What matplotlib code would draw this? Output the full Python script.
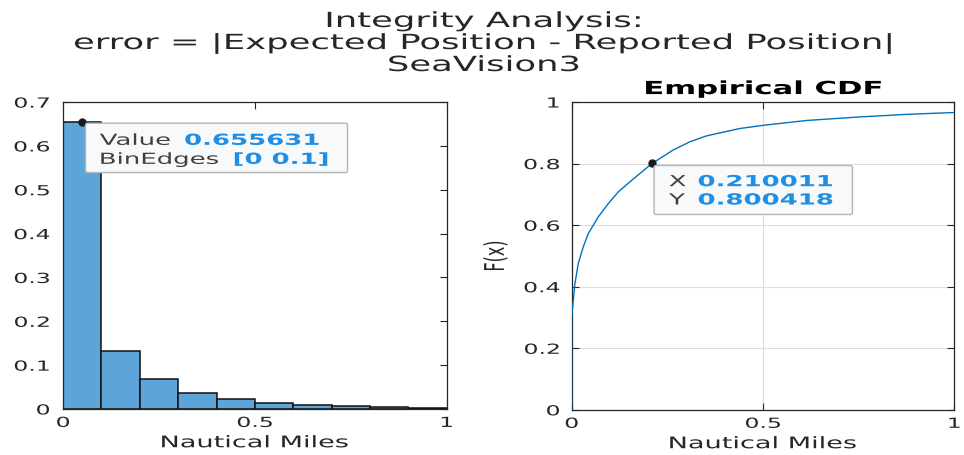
import numpy as np
import matplotlib
matplotlib.use("Agg")
import matplotlib.pyplot as plt
from matplotlib.patches import FancyBboxPatch
from matplotlib.patheffects import AbstractPathEffect
from matplotlib.transforms import Affine2D, ScaledTranslation

# ---- data ----
bin_edges = [0.0, 0.1, 0.2, 0.3, 0.4, 0.5, 0.6, 0.7, 0.8, 0.9, 1.0]
bin_values = [0.655631, 0.132, 0.068, 0.036, 0.023, 0.0137, 0.009, 0.0065, 0.004, 0.002]

cdf_x = [0.0, 0.0, 0.0044, 0.0087, 0.0174, 0.0305, 0.0435, 0.0696, 0.0957, 0.1218,
         0.157, 0.210011, 0.265, 0.309, 0.352, 0.439, 0.504, 0.613, 0.744, 0.874, 1.0]
cdf_y = [0.0, 0.303, 0.357, 0.411, 0.476, 0.530, 0.573, 0.627, 0.670, 0.708,
         0.746, 0.800418, 0.844, 0.871, 0.890, 0.914, 0.925, 0.940, 0.951, 0.960, 0.966]

hist_tip = (0.05, 0.655631)
hist_tip_labels = ["Value", "BinEdges"]
hist_tip_values = ["0.655631", "[0 0.1]"]
cdf_tip = (0.210011, 0.800418)
cdf_tip_labels = ["X", "Y"]
cdf_tip_values = ["0.210011", "0.800418"]

title_lines = ["Integrity Analysis:",
               "error = |Expected Position - Reported Position|",
               "SeaVision3"]
x_ticks = [0, 0.5, 1]
x_tick_labels = ['0', '0.5', '1']
hist_y_ticks = [0, 0.1, 0.2, 0.3, 0.4, 0.5, 0.6, 0.7]
hist_y_tick_labels = ['0', '0.1', '0.2', '0.3', '0.4', '0.5', '0.6', '0.7']
cdf_y_ticks = [0, 0.2, 0.4, 0.6, 0.8, 1]
cdf_y_tick_labels = ['0', '0.2', '0.4', '0.6', '0.8', '1']

# ---- style ----
plt.rcParams['font.family'] = ['DejaVu Sans']
TXT = '#262626'
BLUE_LINE = '#0072BD'
BAR = '#5DA5D8'
TIP_BLUE = '#1E8FE6'
SX = 1.7  # horizontal stretch of the reference's text


class HStretch(AbstractPathEffect):
    """Stretch rendered glyphs horizontally about an anchor of their ink box."""
    def __init__(self, sx=SX, anchor='center'):
        super().__init__()
        self.sx = sx
        self.anchor = anchor

    def draw_path(self, renderer, gc, tpath, affine, rgbFace=None):
        ext = tpath.get_extents(affine)
        if self.anchor == 'left':
            a = ext.x0
        elif self.anchor == 'right':
            a = ext.x1
        else:
            a = 0.5 * (ext.x0 + ext.x1)
        new = affine + Affine2D().translate(-a, 0).scale(self.sx, 1).translate(a, 0)
        renderer.draw_path(gc, tpath, new, rgbFace)


def pe(anchor):
    return [HStretch(SX, anchor)]


fig = plt.figure(figsize=(9.64, 4.56), dpi=100)
ax1 = fig.add_axes([0.0654, 0.1009, 0.398, 0.673])
ax2 = fig.add_axes([0.593, 0.099, 0.397, 0.675])


def style(ax, ypad):
    ax.tick_params(direction='in', top=True, right=True, length=5, width=0.8,
                   colors=TXT, labelsize=10)
    ax.tick_params(axis='x', pad=5)
    ax.tick_params(axis='y', pad=ypad)
    for s in ax.spines.values():
        s.set_color(TXT)
        s.set_linewidth(0.9)
    for t in ax.get_xticklabels():
        t.set_path_effects(pe('center'))
    for t in ax.get_yticklabels():
        t.set_path_effects(pe('right'))


# histogram
widths = np.diff(bin_edges)
ax1.bar(bin_edges[:-1], bin_values, width=widths, align='edge',
        color=BAR, edgecolor='#111111', linewidth=1.1, zorder=2)
ax1.set_xlim(0, 1)
ax1.set_ylim(0, 0.7)
ax1.set_xticks(x_ticks)
ax1.set_xticklabels(x_tick_labels)
ax1.set_yticks(hist_y_ticks)
ax1.set_yticklabels(hist_y_tick_labels)
ax1.set_xlabel('Nautical Miles', fontsize=11.5, color=TXT)
style(ax1, 9.5)

# CDF
ax2.plot(cdf_x, cdf_y, color=BLUE_LINE, linewidth=1.0, zorder=3)
ax2.set_xlim(0, 1)
ax2.set_ylim(0, 1)
ax2.set_xticks(x_ticks)
ax2.set_xticklabels(x_tick_labels)
ax2.set_yticks(cdf_y_ticks)
ax2.set_yticklabels(cdf_y_tick_labels)
ax2.grid(True, color='#dedede', linewidth=0.8, zorder=0)
ax2.set_axisbelow(True)
ax2.set_xlabel('Nautical Miles', fontsize=11.5, color=TXT)
ax2.set_ylabel('F(x)', fontsize=11.5, color=TXT)
ax2.set_title('Empirical CDF', fontsize=13, fontweight='bold', color='black',
              y=1.0 + 13 / 308, va='center', pad=0, path_effects=pe('center'))
style(ax2, 8.5)

for ax in (ax1, ax2):
    ax.xaxis.set_label_coords(0.5, -0.11)
    ax.xaxis.label.set_va('center')
    ax.xaxis.label.set_path_effects(pe('center'))
ax2.yaxis.set_label_coords(-0.198, 0.5)
ax2.yaxis.label.set_va('center')
ax2.yaxis.label.set_path_effects(pe('center'))

# figure title, one line per text, baselines in pixels from the top
for line, base_px in zip(title_lines, [28, 50, 72]):
    fig.text(0.502, 1 - base_px / 456, line, ha='center', va='baseline',
             fontsize=15, color=TXT, path_effects=pe('center'))


def datatip(ax, pt, labels, values, box, label_x, value_x, baselines, fs=11):
    ax.plot([pt[0]], [pt[1]], 'o', color='#1a1a1a', markersize=5, zorder=6, clip_on=False)
    trans = Affine2D() + ScaledTranslation(pt[0], pt[1], ax.transData)
    x0, y0, w, h = box
    ax.add_patch(FancyBboxPatch((x0, y0), w, h, boxstyle='round,pad=0,rounding_size=2',
                                facecolor='#f8f9fa', edgecolor='#b4b4b4', linewidth=1.0,
                                transform=trans, clip_on=False, zorder=7))
    for lab, val, vx, by in zip(labels, values, value_x, baselines):
        ax.text(label_x, by, lab, transform=trans, ha='left', va='baseline',
                fontsize=fs, color='#404040', zorder=8, clip_on=False,
                path_effects=pe('left'))
        ax.text(vx, by, val, transform=trans, ha='left', va='baseline',
                fontsize=fs, color=TIP_BLUE, fontweight='bold', zorder=8, clip_on=False,
                path_effects=pe('left'))


datatip(ax1, hist_tip, hist_tip_labels, hist_tip_values,
        box=(3.3, -51, 262, 49.4), label_x=17.6, value_x=[102.3, 151.3],
        baselines=[-23.3, -42.3])
datatip(ax2, cdf_tip, cdf_tip_labels, cdf_tip_values,
        box=(2, -51, 198.4, 49), label_x=17, value_x=[46, 46],
        baselines=[-22.7, -41])

fig.savefig('out.png', dpi=100, facecolor='white')
